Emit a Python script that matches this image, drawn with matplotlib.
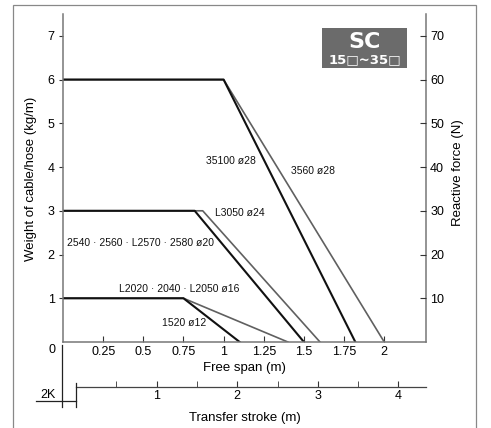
import numpy as np
import matplotlib as mpl
mpl.use('Agg')
import matplotlib.pyplot as plt
from matplotlib.lines import Line2D
from matplotlib.patches import Rectangle

mpl.rcParams['font.family'] = ['Liberation Sans', 'DejaVu Sans']

#---------------------------------------------------------------------------------------------------
# Data
#---------------------------------------------------------------------------------------------------

# free span (m) vs weight of cable/hose (kg/m)
x_35100 = [0, 1.0, 1.82]
y_35100 = [6, 6, 0]
x_3560 = [0, 1.0, 2.0]
y_3560 = [6, 6, 0]
x_L3050 = [0, 0.87, 1.6]
y_L3050 = [3, 3, 0]
x_2540 = [0, 0.82, 1.5]
y_2540 = [3, 3, 0]
x_L2020 = [0, 0.75, 1.4]
y_L2020 = [1, 1, 0]
x_1520 = [0, 0.75, 1.1]
y_1520 = [1, 1, 0]

series_labels = ['35100 ø28', '3560 ø28', 'L3050 ø24',
                 '2540 · 2560 · L2570 · 2580 ø20', 'L2020 · 2040 · L2050 ø16', '1520 ø12']
label_pos = [(1.046, 4.14), (1.557, 3.91), (1.102, 2.96),
             (0.483, 2.27), (0.722, 1.21), (0.753, 0.43)]

span_ticks = [0.25, 0.5, 0.75, 1, 1.25, 1.5, 1.75, 2]
span_ticklabels = ['0.25', '0.5', '0.75', '1', '1.25', '1.5', '1.75', '2']
weight_ticks = [1, 2, 3, 4, 5, 6, 7]
force_ticks = [10, 20, 30, 40, 50, 60, 70]
stroke_ticks = [1, 2, 3, 4]
stroke_minor = [0.5, 1.5, 2.5, 3.5]

BLACK = '#111111'
GRAY = '#606060'
SPINE = '#777777'

#---------------------------------------------------------------------------------------------------
# Figure
#---------------------------------------------------------------------------------------------------

W, H = 491, 428
fig = plt.figure(figsize=(W / 100, H / 100), dpi=100)


def px(x, y):
    # pixel position (from top-left) -> figure fraction
    return x / W, 1 - y / H


def fig_line(xs, ys, color='#222222', lw=0.9):
    fx = [x / W for x in xs]
    fy = [1 - y / H for y in ys]
    fig.add_artist(Line2D(fx, fy, color=color, lw=lw, transform=fig.transFigure))


# outer frame
fig.add_artist(Rectangle(px(12.5, 440), (475.5 - 12.5) / W, (440 - 5) / H, fill=False,
                         edgecolor='#888888', lw=0.9, transform=fig.transFigure))

# main axes
ax = fig.add_axes([63 / W, 1 - 342 / H, 363 / W, 328 / H])
ax.set_facecolor('none')
ax.set_xlim(0, 2.26)
ax.set_ylim(0, 7.5)

ax.plot(x_3560, y_3560, color=GRAY, lw=1.2)
ax.plot(x_35100, y_35100, color=BLACK, lw=1.5)
ax.plot(x_L3050, y_L3050, color=GRAY, lw=1.2)
ax.plot(x_2540, y_2540, color=BLACK, lw=1.5)
ax.plot(x_L2020, y_L2020, color=GRAY, lw=1.2)
ax.plot(x_1520, y_1520, color=BLACK, lw=1.5)

for txt, (lx, ly) in zip(series_labels, label_pos):
    ax.text(lx, ly, txt, fontsize=7.5, ha='center', va='center', color='#111111')

ax.spines['top'].set_visible(False)
for s in ['left', 'right', 'bottom']:
    ax.spines[s].set_color(SPINE)
    ax.spines[s].set_linewidth(1.1)

ax.set_xticks(span_ticks)
ax.set_xticklabels(span_ticklabels)
ax.set_yticks(weight_ticks)
ax.tick_params(axis='x', direction='in', length=4, pad=3, labelsize=9, color='#333333')
ax.tick_params(axis='y', direction='out', length=3, pad=3, labelsize=9, color='#333333')
ax.text(-0.03, -0.024, '0', transform=ax.transAxes, fontsize=9, ha='center', va='center')

# right axis
axr = ax.twinx()
axr.set_ylim(0, 75)
axr.set_yticks(force_ticks)
axr.tick_params(axis='y', direction='in', length=4, pad=3, labelsize=9, color='#333333')
for s in ['left', 'right', 'bottom', 'top']:
    axr.spines[s].set_visible(False)

# transfer stroke axis
ax3 = fig.add_axes([76 / W, 1 - 386.7 / H, 350 / W, 0.002])
ax3.set_facecolor('none')
ax3.set_xlim(0, 350 / 80.6)
ax3.set_yticks([])
for s in ['left', 'right', 'top']:
    ax3.spines[s].set_visible(False)
ax3.spines['bottom'].set_color('#444444')
ax3.spines['bottom'].set_linewidth(0.9)
ax3.set_xticks(stroke_ticks)
ax3.set_xticks(stroke_minor, minor=True)
ax3.tick_params(axis='x', which='both', direction='in', length=4, pad=2.5, labelsize=9,
                color='#333333')

# brackets under the origin
fig_line([61.7, 61.7], [345, 407])
fig_line([36, 76], [401, 401])
fig_line([76, 76], [383, 407])
fig.text(*px(48, 395), '2K', fontsize=9, ha='center', va='center')

# axis titles
fig.text(*px(244.5, 368), 'Free span (m)', fontsize=9.5, ha='center', va='center')
fig.text(*px(244.5, 418), 'Transfer stroke (m)', fontsize=9.5, ha='center', va='center')
fig.text(*px(31, 178.5), 'Weight of cable/hose (kg/m)', fontsize=9.5, ha='center',
         va='center', rotation=90)
fig.text(*px(458, 173), 'Reactive force (N)', fontsize=9.5, ha='center', va='center',
         rotation=90)

# SC badge
fig.add_artist(Rectangle(px(322, 67.5), (407 - 322) / W, (67.5 - 28) / H, facecolor='#6b6b6b',
                         edgecolor='none', transform=fig.transFigure))
fig.text(*px(364.5, 42.5), 'SC', fontsize=16, fontweight='bold', color='white',
         ha='center', va='center', family=['DejaVu Sans'])
fig.text(*px(364.5, 60), '15□~35□', fontsize=9.5, fontweight='bold', color='white',
         ha='center', va='center', family=['DejaVu Sans'])

fig.savefig('out.png', dpi=100)
